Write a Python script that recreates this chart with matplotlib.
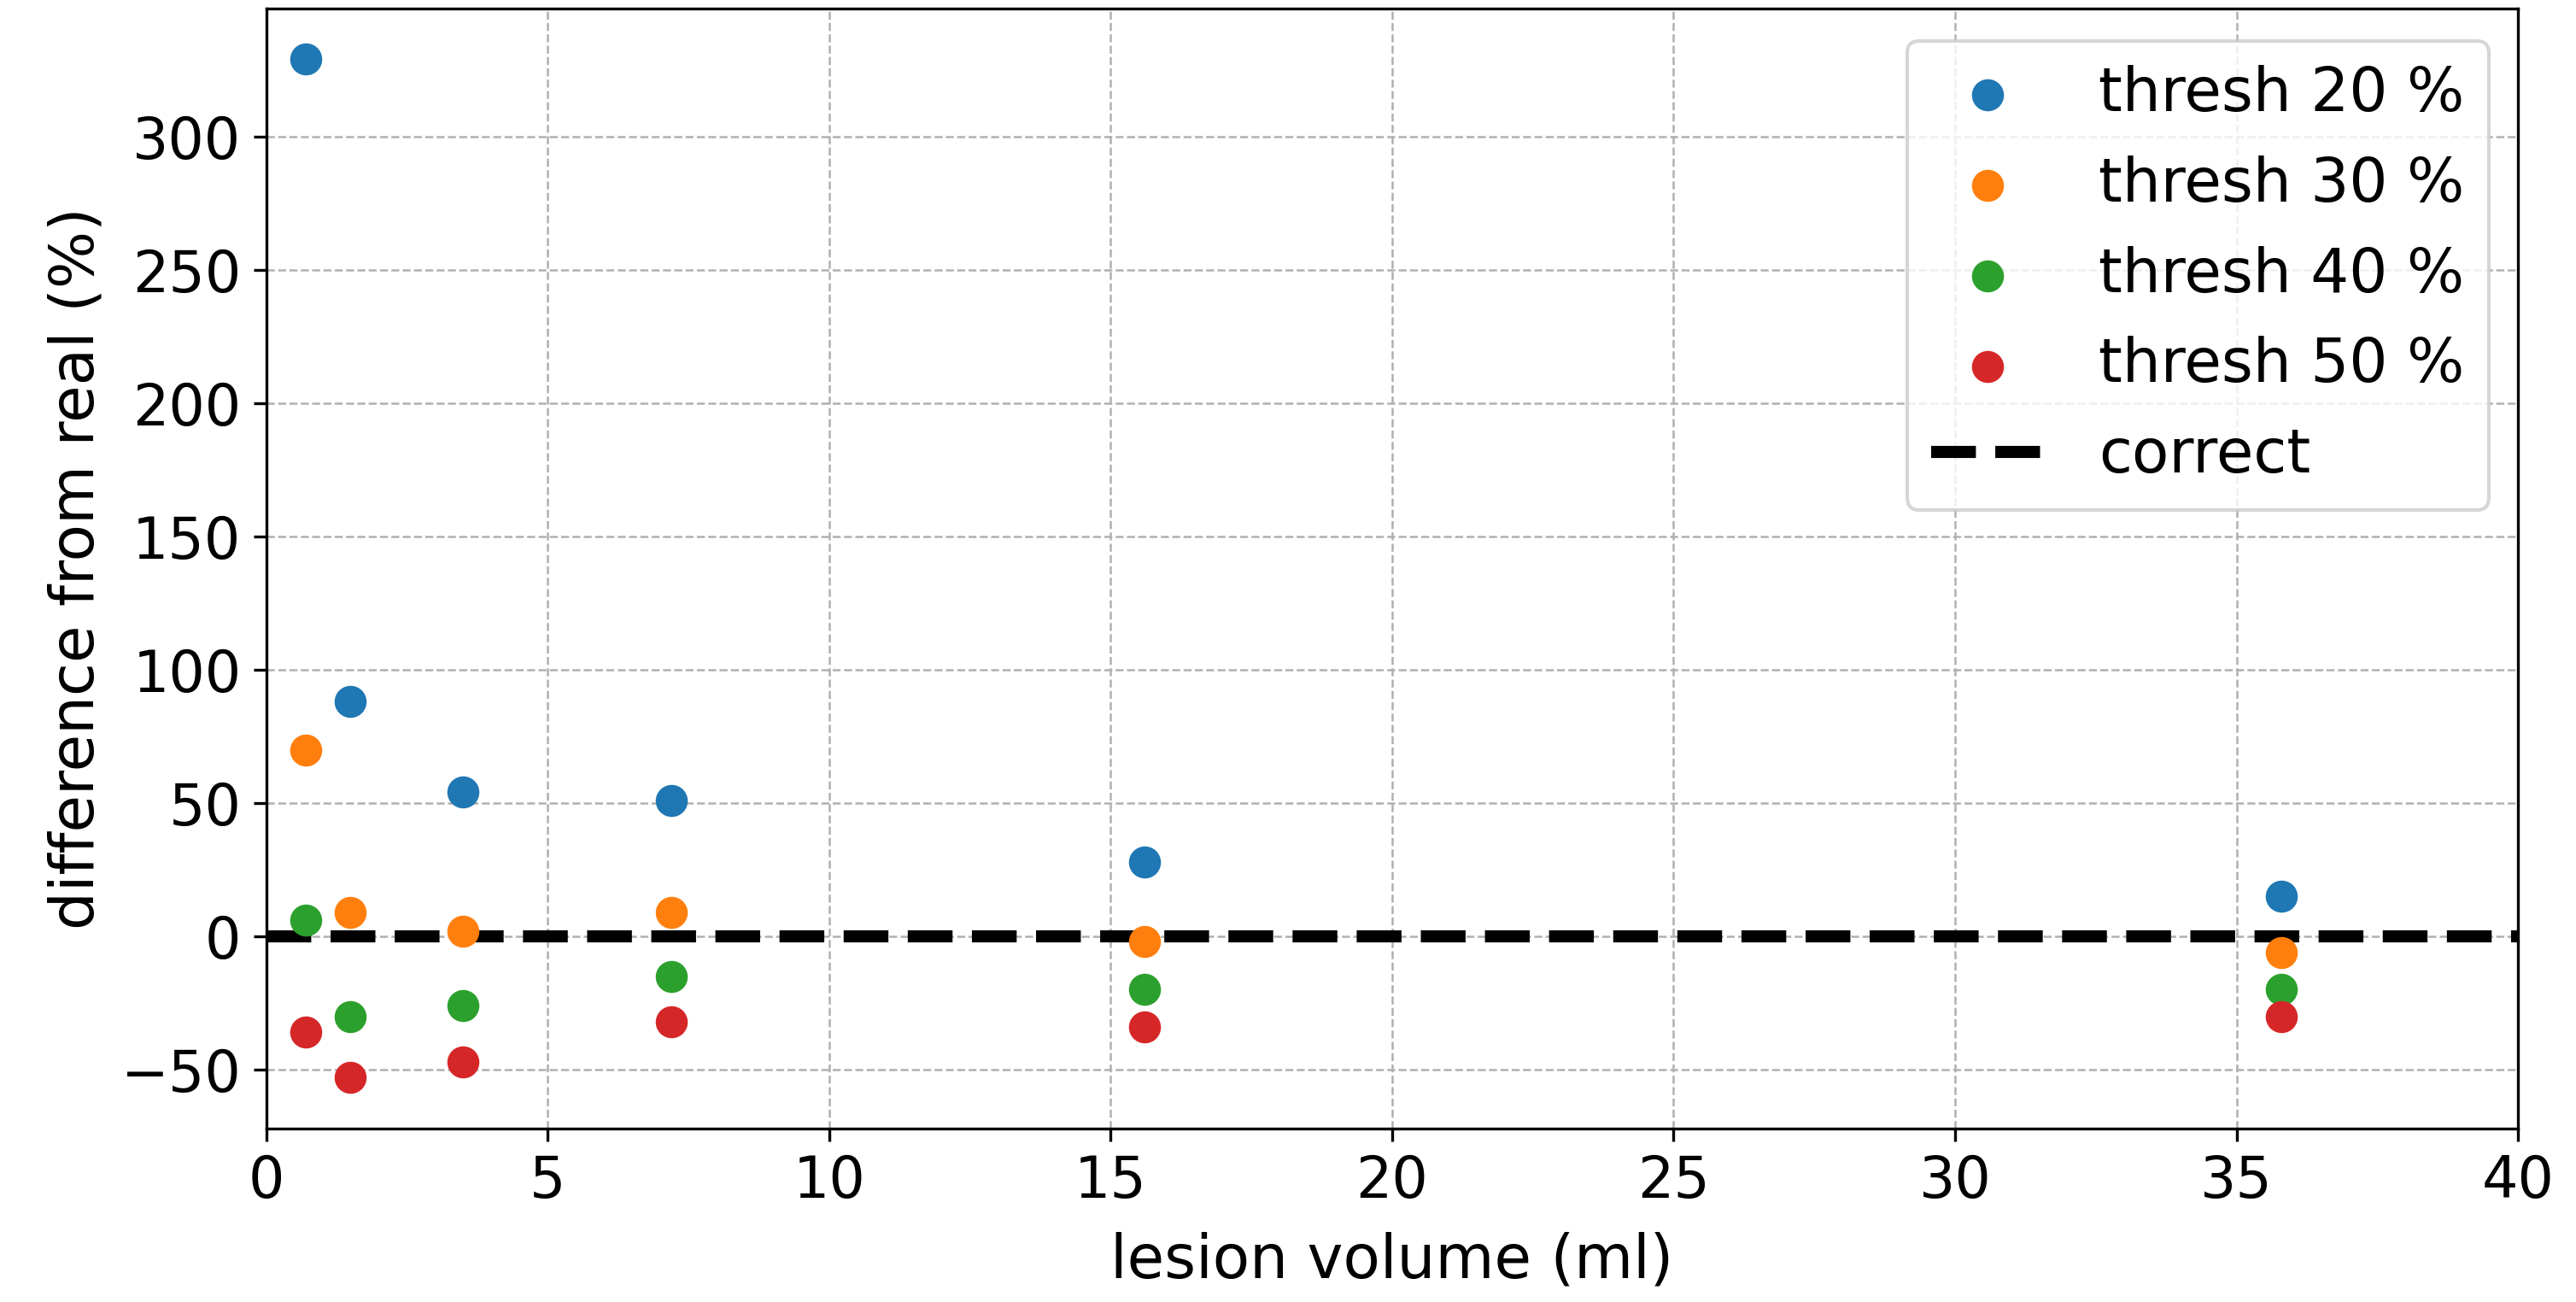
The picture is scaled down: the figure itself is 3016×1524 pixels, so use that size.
import matplotlib
matplotlib.use("Agg")
import matplotlib.pyplot as plt

# lesion volumes (ml) and relative error for each threshold
volumes = [0.7, 1.5, 3.5, 7.2, 15.6, 35.8]
thresholds = ["thresh 20 %", "thresh 30 %", "thresh 40 %", "thresh 50 %"]
diff20 = [329, 88, 54, 51, 28, 15]
diff30 = [70, 9, 2, 9, -2, -6]
diff40 = [6, -30, -26, -15, -20, -20]
diff50 = [-36, -53, -47, -32, -34, -30]
diffs = [diff20, diff30, diff40, diff50]

plt.rcParams["font.size"] = 16

fig = plt.figure(figsize=(3016 / 300, 1524 / 300), dpi=300)
ax = fig.add_subplot(111)
fig.subplots_adjust(left=0.1033, right=0.9775, top=0.9937, bottom=0.1332)

for label, d in zip(thresholds, diffs):
    ax.scatter(volumes, d, s=64, label=label, zorder=3)
ax.plot([0, 40], [0, 0], "k--", lw=3.4, label="correct", zorder=2)

ax.set_xlim(0, 40)
ax.set_xlabel("lesion volume (ml)", fontsize=17, labelpad=6)
ax.set_ylabel("difference from real (%)", fontsize=17)
ax.grid(True, linestyle="--", linewidth=0.6, color="#b0b0b0")
ax.legend(loc="upper right", bbox_to_anchor=(0.987, 0.971), borderaxespad=0,
          fontsize=17, handletextpad=0.9, labelspacing=0.52, borderpad=0.4,
          handlelength=1.87)

fig.savefig("out.png", dpi=300)
